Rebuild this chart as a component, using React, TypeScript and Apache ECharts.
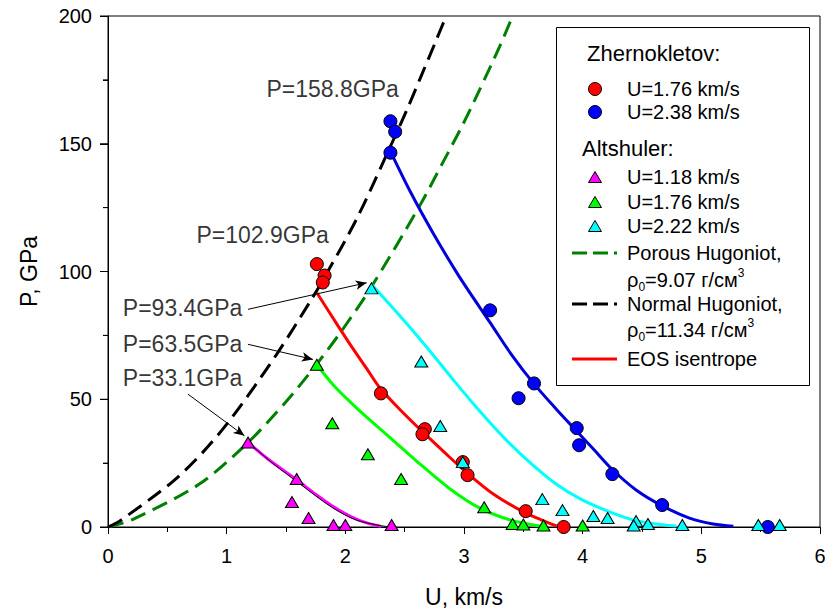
import React, { useEffect, useRef } from 'react';
import * as echarts from 'echarts';

const FONT = '"Liberation Sans", Arial, Helvetica, sans-serif';

// Hugoniots (U km/s, P GPa)
const normalHugoniot: number[][] = [
  [0, 0], [0.10, 2.4], [0.54, 17.6], [0.80, 29.3], [1.05, 43.2], [1.42, 67.5], [1.70, 88],
  [1.84, 99], [2.10, 121], [2.39, 150], [2.53, 164.5], [2.63, 175.5], [2.77, 191], [2.85, 200],
];
const porousHugoniot: number[][] = [
  [0, 0], [0.21, 3], [0.77, 16.8], [1.18, 33.1], [1.50, 49], [1.76, 63.8], [1.98, 77.5],
  [2.22, 94], [2.63, 126], [2.82, 142.5], [2.99, 157.5], [3.13, 171], [3.30, 188], [3.41, 200],
];

// EOS isentropes
const isoMagenta: number[][] = [
  [1.18, 33.1], [1.35, 26.5], [1.59, 18.5], [1.75, 12.8], [1.89, 8.2], [2.05, 4], [2.18, 1.6], [2.30, 0.2],
];
const isoThinBlack: number[][] = [
  [1.18, 33.1], [1.40, 24.5], [1.59, 17.8], [1.89, 7.6], [2.10, 2.6], [2.37, 0],
];
const isoGreen: number[][] = [
  [1.76, 63.5], [1.90, 55.5], [2.04, 49], [2.18, 43], [2.40, 34], [2.60, 25.8], [2.88, 15],
  [3.13, 7.5], [3.40, 2.6], [3.64, 0.4],
];
const isoRed: number[][] = [
  [1.76, 91.7], [1.90, 81.5], [2.04, 71.5], [2.18, 62], [2.29, 54.5], [2.47, 45.5], [2.65, 37.3],
  [2.84, 29], [3.03, 21], [3.25, 12.8], [3.50, 5.9], [3.65, 2.8], [3.78, 0.4],
];
const isoCyan: number[][] = [
  [2.22, 95], [2.50, 80.5], [2.71, 69], [2.92, 57], [3.13, 45.5], [3.34, 34.8],
  [3.55, 25.5], [3.77, 17], [3.98, 11], [4.20, 6.4], [4.40, 3.1], [4.60, 1.3], [4.79, 0.4],
];
const isoBlue: number[][] = [
  [2.38, 147], [2.55, 131], [2.74, 115], [2.96, 98], [3.22, 80], [3.40, 67.5], [3.59, 56],
  [3.78, 46], [3.95, 37.5], [4.10, 30], [4.25, 22.5], [4.45, 14.5], [4.67, 8.3], [4.90, 3.5],
  [5.10, 1.2], [5.27, 0.3],
];

// Experimental points
const zhern176: number[][] = [
  [1.76, 102.9], [1.825, 98.4], [1.81, 95.7], [2.30, 52.3], [2.67, 38.3], [2.65, 36.3],
  [2.99, 25.4], [3.03, 20.3], [3.52, 6.2], [3.84, 0],
];
const zhern238: number[][] = [
  [2.38, 158.8], [2.42, 154.7], [2.38, 146.5], [3.22, 84.8], [3.59, 56.2], [3.46, 50.4],
  [3.95, 38.7], [3.97, 32], [4.25, 20.7], [4.67, 8.6], [5.56, 0],
];
const alt118: number[][] = [
  [1.18, 33.1], [1.59, 18.8], [1.55, 9.8], [1.69, 3.5], [1.90, 0.8], [2.0, 0.8], [2.39, 0.8],
];
const alt176: number[][] = [
  [1.76, 63.5], [1.89, 40.6], [2.19, 28.5], [2.47, 18.8], [3.17, 7.7], [3.41, 1.2], [3.50, 1.0],
  [3.67, 0.6], [4.0, 0.6],
];
const alt222: number[][] = [
  [2.22, 93.4], [2.64, 64.8], [2.80, 39.5], [2.99, 25.4], [3.66, 10.9], [3.83, 6.6], [4.09, 4.3],
  [4.21, 3.5], [4.45, 2.3], [4.43, 0.6], [4.55, 1.2], [4.84, 0.8], [5.48, 0.8], [5.66, 0.8],
];

// Annotations (text and anchor in data coordinates)
const annotationTexts = ['P=158.8GPa', 'P=102.9GPa', 'P=93.4GPa', 'P=63.5GPa', 'P=33.1GPa'];
const annotationAnchors: number[][] = [
  [1.335, 171.6], [0.745, 114.2], [0.125, 85.8], [0.125, 71.5], [0.125, 58.5],
];
const arrowFrom: number[][] = [[1.18, 85.2], [1.18, 71.5], [0.673, 52]];
const arrowTo: number[][] = [[2.18, 95.6], [1.727, 65.6], [1.15, 35.7]];

// Axis ranges and the y tick values (major every 50, minor every 25)
const xRange = { min: 0, max: 6, interval: 1 };
const yRange = { min: 0, max: 200, interval: 50 };
const yTickValues: number[] = [0, 25, 50, 75, 100, 125, 150, 175, 200];

export default function App() {
  const ref = useRef<HTMLDivElement>(null);

  useEffect(() => {
    if (!ref.current) return;
    const chart = echarts.init(ref.current, undefined, { renderer: 'svg' });

    const lineSeries = (name: string, data: number[][], color: string, width: number, type: any = 'solid') => ({
      name,
      type: 'line',
      data,
      showSymbol: false,
      symbol: 'none',
      smooth: 0.3,
      lineStyle: { color, width, type, cap: 'butt' },
      silent: true,
      z: 2,
    });
    const scatterSeries = (name: string, data: number[][], color: string, symbol: string, size: any) => ({
      name,
      type: 'scatter',
      data,
      symbol,
      symbolSize: size,
      itemStyle: { color, borderColor: '#000', borderWidth: 1, opacity: 1 },
      z: 3,
    });

    const ts = () => ({ color: '#000000', width: 1 });

    const makeAxis = (
      range: { min: number; max: number; interval: number },
      name: string,
      nameGap: number,
      tickLen: number,
      labelMargin: number,
    ) => ({
      type: 'value',
      min: range.min,
      max: range.max,
      interval: range.interval,
      name,
      nameLocation: 'middle',
      nameGap,
      nameTextStyle: { fontSize: 23, fontFamily: FONT, color: '#000' },
      axisLine: { show: true, lineStyle: ts() },
      axisTick: { show: true, length: tickLen, lineStyle: ts() },
      minorTick: { show: true, splitNumber: 2, length: 5, lineStyle: ts() },
      splitLine: { show: false },
      minorSplitLine: { show: false },
      axisLabel: { fontSize: 20, fontFamily: FONT, color: '#000', margin: labelMargin },
    });

    // legend layout
    const LX = 595; // marker center x
    const TX = 627; // text left x
    const txt = (text: string, x: number, y: number, size = 20) => ({
      type: 'text',
      x,
      y,
      silent: true,
      style: { text, fontSize: size, fontFamily: FONT, fill: '#000', align: 'left', verticalAlign: 'middle' },
    });
    const rhoTxt = (value: string, x: number, y: number) => ({
      type: 'text',
      x,
      y,
      silent: true,
      style: {
        text: `{r|ρ}{s|0}{r|=${value} г/см}{p|3}`,
        align: 'left',
        verticalAlign: 'middle',
        fill: '#000',
        rich: {
          r: { fontSize: 20, fontFamily: FONT, fill: '#000', lineHeight: 26, verticalAlign: 'middle' },
          s: { fontSize: 12, fontFamily: FONT, fill: '#000', lineHeight: 12, verticalAlign: 'bottom' },
          p: { fontSize: 12, fontFamily: FONT, fill: '#000', lineHeight: 12, verticalAlign: 'top' },
        },
      },
    });
    const circ = (y: number, color: string) => ({
      type: 'circle',
      silent: true,
      shape: { cx: LX, cy: y, r: 6.5 },
      style: { fill: color, stroke: '#000', lineWidth: 1 },
    });
    const tri = (y: number, color: string) => ({
      type: 'polygon',
      silent: true,
      shape: { points: [[LX, y - 5.5], [LX + 6.5, y + 5.5], [LX - 6.5, y + 5.5]] },
      style: { fill: color, stroke: '#000', lineWidth: 1 },
    });
    const seg = (y: number, color: string, dash: number[] | null) => ({
      type: 'line',
      silent: true,
      shape: { x1: 572, y1: y, x2: 617, y2: y },
      style: { stroke: color, lineWidth: 3, lineDash: dash || undefined },
    });

    const legendGraphic = [
      {
        type: 'rect',
        silent: true,
        shape: { x: 556.5, y: 27.5, width: 253, height: 358 },
        style: { fill: '#fff', stroke: '#000', lineWidth: 1 },
        z: 10,
      },
      ...[
        txt('Zhernokletov:', 587, 53, 22),
        circ(89, '#ff0000'), txt('U=1.76 km/s', TX, 89),
        circ(112, '#0000ff'), txt('U=2.38 km/s', TX, 112),
        txt('Altshuler:', 582, 148, 22),
        tri(177, '#ff00ff'), txt('U=1.18 km/s', TX, 177),
        tri(202, '#00ff00'), txt('U=1.76 km/s', TX, 202),
        tri(226, '#00ffff'), txt('U=2.22 km/s', TX, 226),
        seg(253, '#008000', [15, 6]), txt('Porous Hugoniot,', TX, 253),
        rhoTxt('9.07', TX, 280),
        seg(304, '#000000', [15, 6]), txt('Normal Hugoniot,', TX, 304),
        rhoTxt('11.34', TX, 330),
        seg(359, '#ff0000', null), txt('EOS isentrope', TX, 359),
      ].map((g: any) => ({ ...g, z: 11 })),
    ];

    // Outward y-axis ticks, placed through the y scale
    const yTickSeries = {
      name: 'y ticks',
      type: 'custom',
      coordinateSystem: 'cartesian2d',
      silent: true,
      clip: false,
      z: 5,
      data: yTickValues.map((v) => [xRange.min, v]),
      renderItem: (_params: any, api: any) => {
        const v = api.value(1);
        const p = api.coord([api.value(0), v]);
        const len = v % yRange.interval === 0 ? 8 : 5;
        return {
          type: 'line',
          shape: { x1: p[0] - len, y1: p[1], x2: p[0], y2: p[1] },
          style: { stroke: '#000', lineWidth: 1 },
        };
      },
    };

    const option: any = {
      animation: false,
      grid: {
        left: 108, top: 16, right: 18, bottom: 85,
        show: true, borderColor: '#000', borderWidth: 1, backgroundColor: 'transparent',
      },
      xAxis: makeAxis(xRange, 'U, km/s', 58, 7, 19),
      yAxis: makeAxis(yRange, 'P, GPa', 68, 8, 16),
      series: [
        lineSeries('Porous Hugoniot', porousHugoniot, '#008000', 3, [16, 8]),
        lineSeries('Normal Hugoniot', normalHugoniot, '#000000', 3, [16, 8]),
        lineSeries('iso 1.18', isoMagenta, '#ff00ff', 3),
        lineSeries('iso 1.18 b', isoThinBlack, '#000000', 1),
        lineSeries('iso 1.76 A', isoGreen, '#00ff00', 3),
        lineSeries('EOS isentrope', isoRed, '#ff0000', 3),
        lineSeries('iso 2.22', isoCyan, '#00ffff', 3),
        lineSeries('iso 2.38', isoBlue, '#0000dd', 3),
        scatterSeries('Zhernokletov U=1.76', zhern176, '#ff0000', 'circle', 13),
        scatterSeries('Zhernokletov U=2.38', zhern238, '#0000ff', 'circle', 13),
        scatterSeries('Altshuler U=1.18', alt118, '#ff00ff', 'triangle', [13, 11]),
        scatterSeries('Altshuler U=1.76', alt176, '#00ff00', 'triangle', [13, 11]),
        scatterSeries('Altshuler U=2.22', alt222, '#00ffff', 'triangle', [13, 11]),
        yTickSeries,
        {
          name: 'annotations',
          type: 'scatter',
          symbolSize: 0,
          silent: true,
          z: 4,
          data: annotationTexts.map((t, i) => ({ name: t, value: annotationAnchors[i] })),
          label: {
            show: true,
            position: 'right',
            distance: 0,
            formatter: (p: any) => p.name,
            fontSize: 23,
            fontFamily: FONT,
            color: '#000000',
          },
          markLine: {
            silent: true,
            symbol: ['none', 'arrow'],
            symbolSize: [7, 11],
            label: { show: false },
            lineStyle: { color: '#000', width: 1, type: 'solid' },
            data: arrowFrom.map((f, i) => [{ coord: f }, { coord: arrowTo[i] }]),
          },
        },
      ],
      graphic: legendGraphic,
    };

    chart.setOption(option);
    return () => chart.dispose();
  }, []);

  return (
    <div
      ref={ref}
      style={{ position: 'absolute', left: 0, top: 0, width: 838, height: 613, background: '#fff' }}
    />
  );
}
